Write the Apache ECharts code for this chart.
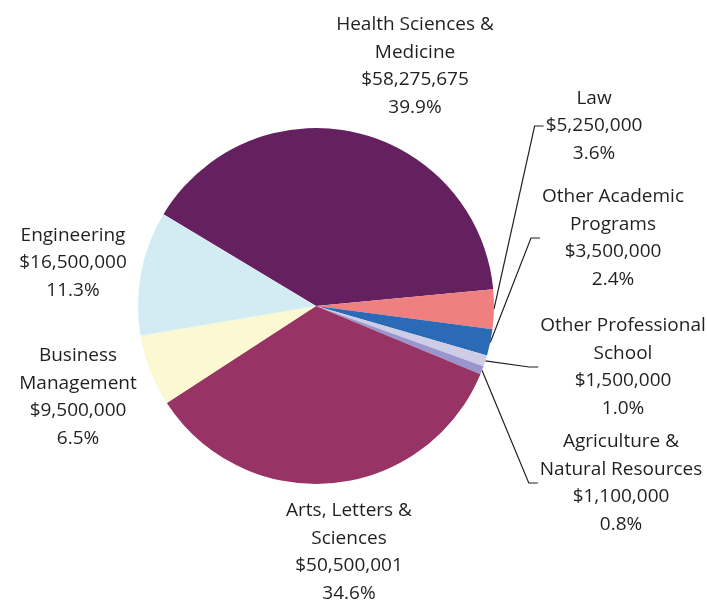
<!DOCTYPE html>
<html>
<head>
<meta charset="utf-8">
<script src="https://cdn.jsdelivr.net/npm/echarts@6/dist/echarts.min.js"></script>
<style>
  html, body { margin: 0; padding: 0; background: #fff; }
  #chart { width: 707px; height: 604px; }
</style>
</head>
<body>
<div id="chart"></div>
<script>
// 类别名（含换行）
var names = [
  'Health Sciences &\nMedicine',
  'Law',
  'Other Academic\nPrograms',
  'Other Professional\nSchool',
  'Agriculture &\nNatural Resources',
  'Arts, Letters &\nSciences',
  'Business\nManagement',
  'Engineering'
]
// 金额
var values = [58275675, 5250000, 3500000, 1500000, 1100000, 50500001, 9500000, 16500000]
// 颜色
var colors = ['#64205f', '#f07f7f', '#2b6ab6', '#cfcce6', '#9a95cc', '#983366', '#fbf8d2', '#d3ecf3']
// 哪些有引导线
var withLine = [false, true, true, true, true, false, false, false]
// 标签中心位置
var labelPos = [[415, 66], [594, 126], [613, 238], [623, 367], [621, 483], [349, 552], [78, 397], [73, 263]]

var total = values.reduce(function (a, b) { return a + b }, 0)

var data = names.map(function (n, i) {
  return {
    name: n,
    value: values[i],
    itemStyle: { color: colors[i] },
    labelLine: { show: withLine[i] }
  }
})

var chart = echarts.init(document.getElementById('chart'))
chart.setOption({
  animation: false,
  series: [{
    type: 'pie',
    center: [316, 306],
    radius: 178,
    startAngle: 149,
    clockwise: true,
    minAngle: 0,
    avoidLabelOverlap: false,
    itemStyle: { borderWidth: 0 },
    label: {
      show: true,
      position: 'outside',
      fontFamily: 'Open Sans',
      fontSize: 19,
      lineHeight: 27.7,
      color: '#231f20',
      align: 'center',
      formatter: function (p) {
        return p.name + '\n$' + p.value.toLocaleString('en-US') + '\n' + (p.value / total * 100).toFixed(1) + '%'
      }
    },
    labelLine: {
      show: false,
      length: 10,
      length2: 10,
      lineStyle: { color: '#231f20', width: 1.2 }
    },
    labelLayout: function (p) {
      var i = p.dataIndex
      var pos = labelPos[i]
      var out = { x: pos[0], y: pos[1], align: 'center', verticalAlign: 'middle' }
      if (withLine[i] && p.labelLinePoints) {
        var left = pos[0] - p.labelRect.width / 2 - 2
        out.labelLinePoints = [p.labelLinePoints[0], [left - 9, pos[1]], [left, pos[1]]]
      }
      return out
    },
    data: data
  }]
})
</script>
</body>
</html>
